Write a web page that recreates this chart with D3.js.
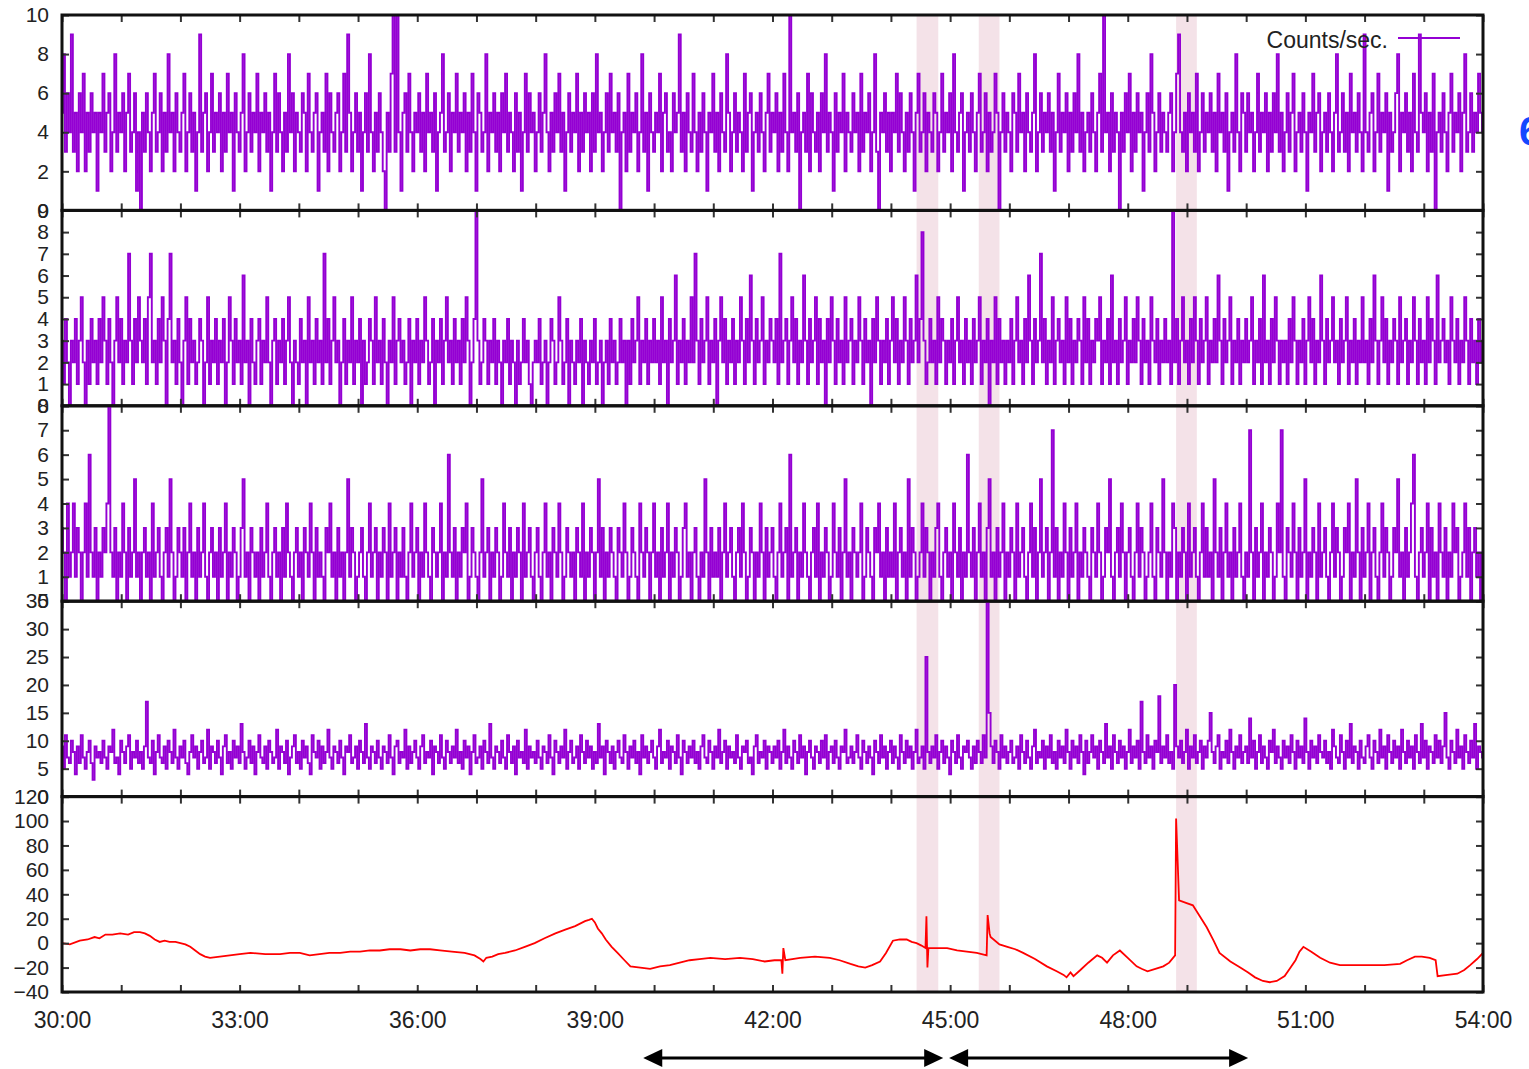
<!DOCTYPE html>
<html>
<head>
<meta charset="utf-8">
<script src="https://cdn.jsdelivr.net/npm/d3@7"></script>
<style>
    body { margin: 0; background: #fff; overflow: hidden; }
    svg text { font-family: "Liberation Sans", Arial, Helvetica, sans-serif; fill: #222; }
</style>
</head>
<body>
<div id="chart"></div>
<script>
const start_time = "30:00";
const end_time = "54:00";
const step_seconds = 2;

// counts per second, one value every 2 s
const counts_1 = [
    5,8,3,6,4,9,3,5,2,6,4,7,2,5,3,6,4,5,1,5,
    4,7,3,5,6,2,4,8,3,5,4,6,2,5,7,3,4,6,1,4,
    0,5,3,6,4,2,5,7,3,4,6,2,5,3,8,4,5,2,6,4,
    3,5,7,2,4,6,3,5,1,4,9,3,5,6,2,4,7,3,5,4,
    6,2,5,3,7,4,5,1,6,4,3,5,8,2,4,6,3,5,4,7,
    2,5,4,6,3,5,1,4,7,3,6,4,2,5,3,8,4,6,2,5,
    4,3,6,5,2,7,4,3,5,6,1,4,5,3,7,2,6,4,3,5,
    6,2,4,7,3,9,5,2,4,6,3,5,1,4,6,3,8,4,2,5,
    3,6,4,2,0,5,3,7,10,3,10,4,1,5,6,3,7,4,2,5,
    4,6,3,5,2,7,4,5,3,6,1,4,5,8,3,4,6,2,5,4,
    7,3,5,4,6,2,5,3,7,4,1,6,5,3,4,8,2,5,4,6,
    3,5,2,6,4,7,3,5,4,2,6,3,5,1,4,7,3,6,4,5,
    2,4,6,3,5,8,4,2,5,3,6,4,7,3,5,1,4,6,3,5,
    4,7,2,5,3,6,4,5,2,6,3,8,4,5,2,4,6,3,7,4,
    5,3,6,0,4,5,2,7,3,5,4,6,2,4,8,3,5,1,6,4,
    3,5,4,7,2,5,6,3,4,2,6,4,5,9,3,5,2,6,4,3,
    7,4,2,5,3,6,4,1,5,4,7,3,5,2,6,4,3,8,5,2,
    4,6,3,5,4,2,7,3,5,6,1,4,5,3,6,4,2,5,7,3,
    5,4,6,2,5,3,7,4,2,10,4,5,3,6,0,4,5,3,7,2,
    6,4,3,5,2,6,4,8,3,5,4,1,6,3,5,4,7,2,5,4,
    3,6,4,5,2,7,3,5,4,6,2,4,8,3,0,5,4,6,3,5,
    2,5,4,7,3,6,4,2,5,3,6,4,1,5,7,3,4,6,2,5,
    4,3,6,5,2,4,7,3,5,4,6,2,8,4,3,5,6,1,4,5,
    3,6,4,2,5,7,3,4,6,2,5,3,4,7,5,0,4,6,3,5,
    4,2,6,5,3,7,4,5,2,6,4,3,5,8,2,4,6,3,5,4,
    6,3,5,1,4,7,3,5,4,6,2,5,3,6,4,8,3,5,2,4,
    5,3,6,4,2,5,7,3,10,4,5,2,6,3,5,4,0,5,3,6,
    4,7,2,5,3,6,4,5,1,4,6,3,8,5,2,4,6,3,5,4,
    3,5,6,2,4,7,9,4,3,5,2,6,4,5,3,7,2,4,6,3,
    5,4,6,3,5,2,7,4,5,3,6,1,4,5,3,8,4,2,6,5,
    3,6,4,5,2,4,7,3,5,4,6,2,5,3,6,4,8,3,5,2,
    4,6,3,5,7,2,4,5,3,6,4,1,5,4,7,3,5,6,2,4,
    5,3,6,4,2,5,8,3,4,6,3,5,2,7,4,5,3,6,4,2,
    9,4,3,5,6,2,4,7,3,5,4,6,1,5,3,4,6,8,2,5,
    4,6,3,5,2,7,4,3,9,5,4,6,2,5,3,7,0,4,5,3,
    6,4,2,5,7,3,5,4,6,2,5,8,3,4,6,3,5,4,7,5,
    4
];
const counts_2 = [
    3,1,4,2,0,3,2,4,1,3,5,2,0,3,1,4,2,3,1,4,
    2,5,3,1,4,2,0,3,5,2,4,1,3,2,7,3,1,4,2,5,
    3,2,4,1,5,7,2,3,1,4,2,5,3,0,4,7,2,3,1,4,
    2,0,3,5,1,4,2,3,1,2,4,3,0,2,5,1,3,2,4,1,
    3,2,4,0,2,5,3,1,4,2,3,1,6,2,3,0,4,2,1,3,
    4,1,3,2,5,2,0,3,4,1,3,2,4,1,3,5,2,0,3,2,
    1,4,2,3,0,5,2,3,1,4,2,3,1,7,2,4,1,3,5,2,
    3,0,2,4,1,3,2,5,1,3,2,4,0,3,1,2,4,3,1,5,
    2,3,1,4,2,0,3,2,5,1,3,4,2,3,1,2,4,0,3,2,
    4,1,3,2,5,3,1,2,4,0,3,2,4,1,3,5,2,3,1,4,
    2,3,1,4,2,5,3,0,2,4,9,3,1,2,4,3,1,3,2,4,
    1,3,2,0,3,2,4,1,3,2,0,3,1,2,4,2,3,1,0,2,
    3,2,4,1,2,3,0,2,4,3,1,2,5,3,1,2,4,0,3,2,
    1,3,2,4,0,3,2,1,3,2,4,1,2,3,0,2,3,1,4,2,
    3,1,2,4,2,3,0,3,1,4,2,3,5,1,3,2,4,1,3,2,
    4,2,3,1,5,2,3,0,4,2,3,6,1,3,2,4,1,3,2,5,
    2,7,3,1,4,2,3,5,1,3,2,4,0,3,5,2,4,1,3,2,
    4,1,3,2,5,3,1,4,2,6,3,1,4,2,3,5,1,3,2,4,
    3,2,4,1,7,2,3,4,1,3,5,2,4,1,3,2,6,3,1,4,
    2,3,5,1,4,2,3,0,4,2,5,3,1,4,2,3,1,5,2,3,
    4,1,3,2,5,3,1,4,2,3,0,4,2,5,3,1,3,2,4,1,
    3,5,2,4,1,3,2,5,3,1,4,2,3,6,2,4,8,3,1,2,
    4,2,3,1,5,2,4,3,1,3,2,4,1,3,5,2,3,1,4,2,
    3,1,4,2,3,5,1,3,2,4,0,3,2,5,1,4,2,3,1,3,
    2,4,1,3,5,2,3,1,4,2,6,3,1,4,2,3,7,2,4,1,
    3,2,5,1,3,4,2,3,1,5,2,4,1,3,2,4,3,1,5,2,
    4,1,3,2,4,3,5,1,3,2,4,1,6,2,3,1,4,2,3,5,
    1,3,2,4,2,5,3,1,4,2,3,1,5,3,2,4,1,3,2,4,
    2,3,1,9,2,4,1,3,5,2,3,1,4,2,5,3,1,4,2,3,
    5,1,3,2,4,2,6,3,1,4,2,3,5,1,3,2,4,1,3,2,
    4,2,3,5,1,3,2,4,1,6,2,3,1,4,2,5,3,1,3,2,
    3,1,4,2,5,3,1,3,2,4,1,3,5,2,4,1,3,2,6,3,
    1,4,2,3,5,2,3,1,4,2,3,5,1,3,2,4,1,3,2,5,
    2,3,1,4,2,6,3,1,3,5,2,4,1,3,2,4,3,1,5,2,
    3,4,1,3,2,5,3,1,4,2,3,1,5,2,4,3,1,6,2,3,
    4,2,3,1,5,3,2,4,1,3,2,5,3,1,4,2,3,1,4,2,
    3
];
const counts_3 = [
    3,2,0,4,1,2,4,1,3,2,0,2,4,1,6,2,1,3,0,2,
    1,3,2,4,8,2,1,3,0,2,1,4,2,0,3,1,2,5,1,2,
    0,2,3,1,2,0,4,1,2,3,1,0,2,3,1,5,2,0,1,3,
    2,1,3,0,2,4,1,2,0,3,1,2,4,1,0,2,3,1,2,0,
    3,1,2,4,0,2,1,3,2,0,1,3,5,1,2,0,3,2,1,2,
    0,3,1,2,4,1,0,2,3,1,2,0,3,1,4,2,1,0,2,3,
    1,2,0,3,2,1,4,2,0,3,1,2,1,0,3,2,4,1,2,0,
    3,1,2,0,2,5,1,3,2,0,1,2,3,1,0,2,4,1,2,3,
    0,2,1,3,2,0,4,1,2,3,0,2,1,3,1,0,2,4,1,2,
    3,0,2,1,4,2,1,0,3,2,1,2,4,0,2,1,6,2,1,3,
    0,2,1,3,2,4,0,1,3,2,1,0,2,5,1,2,3,0,2,1,
    3,2,0,1,4,2,1,3,0,2,1,3,2,0,4,1,2,3,1,0,
    2,3,1,0,2,4,1,2,0,3,2,1,4,2,0,1,3,2,1,2,
    0,3,2,1,4,0,2,1,3,2,0,2,5,1,3,0,2,1,3,2,
    1,0,3,2,1,4,2,0,1,3,2,1,0,4,2,1,3,2,0,2,
    4,1,2,0,3,1,2,4,0,2,1,3,2,0,1,3,4,1,2,0,
    2,3,1,0,2,1,5,2,0,3,1,2,1,3,0,2,4,1,2,3,
    1,0,2,3,1,4,2,0,1,3,2,0,2,1,4,2,0,3,1,2,
    3,1,0,2,4,1,2,3,0,6,1,2,3,0,2,1,4,2,1,0,
    2,3,1,4,0,2,1,3,2,0,1,4,2,1,3,0,2,5,1,2,
    0,3,2,1,2,4,0,1,3,2,1,0,3,2,4,1,2,0,3,1,
    2,1,4,0,2,3,1,2,0,5,1,3,2,0,1,2,4,1,3,2,
    0,2,1,3,4,1,0,2,3,1,2,0,4,2,1,3,0,2,1,6,
    2,1,3,0,2,4,1,2,0,3,5,1,2,0,3,1,2,4,0,2,
    1,3,2,0,4,1,2,3,1,0,2,4,1,3,0,2,5,1,2,3,
    0,2,7,1,3,0,2,1,4,2,0,3,1,2,4,0,2,1,3,2,
    1,0,3,2,1,4,2,0,1,3,2,5,1,0,2,3,1,4,2,0,
    2,3,1,0,2,4,1,3,2,0,1,2,4,1,0,3,2,1,5,2,
    0,2,1,4,3,0,2,1,3,2,0,4,1,2,3,1,0,2,4,1,
    3,1,2,0,5,2,1,3,0,2,4,1,2,0,3,1,2,4,1,0,
    2,1,7,2,0,3,1,2,4,0,2,1,3,2,0,1,4,2,7,1,
    0,3,2,1,4,2,0,3,1,2,5,0,2,1,3,2,0,4,1,2,
    3,1,0,2,4,1,3,2,0,1,3,2,4,0,2,1,5,2,0,3,
    1,2,4,0,2,3,1,0,2,4,1,3,2,0,1,3,2,5,1,2,
    0,3,1,2,4,6,1,0,2,3,1,2,4,0,3,1,2,0,4,2,
    1,3,0,2,1,4,2,3,0,1,2,4,1,3,0,2,3,1,2,0,
    2
];
const counts_4 = [
    9,5,11,7,6,10,8,4,9,6,11,7,5,8,10,6,3,9,7,8,
    6,10,7,5,9,8,12,6,7,4,10,8,6,9,11,5,8,7,10,6,
    8,5,9,17,7,6,10,4,8,11,7,6,9,5,10,8,6,12,7,5,
    9,7,10,6,4,8,11,7,9,5,8,10,6,7,12,5,9,8,6,10,
    7,4,9,11,6,8,5,10,7,9,6,13,8,5,7,10,6,9,4,8,
    11,7,6,9,5,10,8,6,7,12,5,9,8,6,10,4,7,9,11,6,
    8,5,10,7,9,6,4,11,8,7,10,5,9,6,8,12,7,5,9,8,
    6,10,7,4,9,8,11,6,7,9,5,10,8,6,13,7,5,9,8,6,
    10,7,5,9,8,6,11,7,4,9,10,6,8,7,12,5,9,6,8,10,
    7,5,9,11,6,8,7,10,4,9,8,6,11,7,5,10,8,6,9,7,
    12,6,8,5,10,7,9,4,8,11,6,7,9,5,10,8,6,13,7,5,
    9,8,6,10,7,5,11,8,6,9,4,10,7,8,6,12,5,9,7,8,
    6,10,7,5,9,8,6,11,7,4,10,8,6,9,7,12,5,8,10,6,
    7,9,5,11,8,6,10,7,9,5,8,6,13,7,9,4,10,8,6,9,
    5,8,10,7,6,11,8,5,9,7,10,6,8,4,11,7,9,6,8,10,
    7,5,9,12,6,8,7,10,5,9,8,6,11,7,4,10,8,6,9,7,
    10,6,8,5,9,11,7,6,10,8,5,9,7,12,6,8,10,5,9,7,
    8,6,11,7,5,9,8,10,6,7,4,9,11,6,8,7,10,5,9,8,
    6,9,7,10,5,8,12,6,9,7,5,10,8,6,11,7,9,4,8,10,
    7,5,9,8,6,10,7,11,5,8,9,6,10,7,5,9,8,12,6,7,
    9,6,8,11,7,5,10,8,6,9,7,4,10,8,6,11,7,9,5,8,
    10,6,9,7,5,11,8,6,10,7,9,5,8,12,6,7,9,5,25,8,
    6,9,7,11,5,8,10,6,9,7,4,10,8,6,11,7,5,9,8,10,
    7,5,9,6,10,8,6,11,7,35,15,9,6,10,8,5,11,7,9,6,
    8,10,6,7,9,5,11,8,6,10,7,5,9,12,6,8,7,10,5,9,
    7,11,6,8,5,10,7,9,6,12,8,5,10,7,9,6,11,8,4,10,
    6,8,11,7,9,5,10,8,6,13,7,9,5,11,8,6,10,7,9,5,
    8,12,6,9,7,10,5,17,8,6,11,7,9,5,10,8,18,6,9,7,
    11,6,8,5,20,9,7,10,6,8,12,5,9,7,11,6,8,10,5,9,
    7,10,15,8,6,9,11,5,8,7,10,6,12,8,5,9,7,11,6,8,
    9,6,14,7,10,5,8,11,6,9,7,5,10,8,12,6,9,7,5,10,
    7,9,6,11,8,5,10,7,9,6,14,8,5,10,7,9,6,11,8,7,
    10,6,8,5,12,9,7,6,11,8,5,10,7,13,6,9,8,5,10,7,
    6,9,11,7,5,10,8,6,12,7,9,5,11,8,6,10,7,9,5,12,
    8,6,10,7,9,5,11,8,6,13,7,10,5,9,8,6,11,7,10,6,
    9,15,7,5,10,8,6,12,7,9,5,11,8,6,10,7,13,5,9,8,
    7
];

// bottom panel (red trace)
const trace_times = [
    "30:00","30:08","30:18","30:26","30:33","30:38","30:44","30:51","30:59","31:07",
    "31:13","31:19","31:24","31:29","31:34","31:39","31:44","31:49","31:55","32:00",
    "32:05","32:10","32:15","32:20","32:25","32:30","32:40","32:50","33:00","33:11",
    "33:26","33:41","33:51","34:01","34:11","34:21","34:31","34:42","34:52","35:02",
    "35:12","35:22","35:32","35:43","35:53","36:03","36:13","36:23","36:35","36:48",
    "36:58","37:04","37:07","37:10","37:16","37:22","37:29","37:39","37:49","37:59",
    "38:09","38:20","38:30","38:40","38:50","38:54","38:57","39:00","39:03","39:07",
    "39:11","39:17","39:23","39:30","39:36","39:46","39:56","40:06","40:16","40:26",
    "40:36","40:46","40:57","41:12","41:27","41:40","41:52","42:02","42:09","42:10",
    "42:11","42:13","42:20","42:28","42:43","42:58","43:08","43:19","43:27","43:34",
    "43:41","43:49","43:55","44:02","44:09","44:16","44:21","44:26","44:31","44:35",
    "44:36","44:37","44:38","44:47","44:57","45:07","45:17","45:27","45:37","45:38",
    "45:40","45:41","45:50","45:58","46:06","46:14","46:26","46:38","46:48","46:55",
    "46:58","47:02","47:05","47:12","47:20","47:29","47:34","47:39","47:45","47:52",
    "48:00","48:09","48:14","48:20","48:28","48:36","48:42","48:48","48:49","48:52",
    "48:59","49:06","49:13","49:20","49:27","49:33","49:44","49:54","50:02","50:09",
    "50:17","50:24","50:31","50:39","50:45","50:50","50:54","50:58","51:06","51:15",
    "51:25","51:35","51:50","52:05","52:20","52:36","52:43","52:51","52:58","53:06",
    "53:12","53:14","53:24","53:34","53:41","53:47","53:54","54:00"
];
const trace_values = [
    0,-1,2,3,5,4,7,7,8,7,
    9,9,8,6,3,1,2,1,1,0,
    -1,-3,-6,-9,-11,-12,-11,-10,-9,-8,
    -9,-9,-8,-8,-10,-9,-8,-8,-7,-7,
    -6,-6,-5,-5,-6,-5,-5,-6,-7,-8,
    -10,-13,-15,-12,-11,-9,-8,-6,-3,0,
    4,8,11,14,18,19,20,17,12,8,
    3,-3,-8,-14,-19,-20,-21,-19,-18,-16,
    -14,-13,-12,-13,-12,-13,-15,-14,-14,-25,
    -4,-14,-13,-12,-11,-12,-14,-17,-19,-20,
    -18,-15,-8,2,3,3,1,0,-2,-4,
    22,-20,-4,-4,-4,-6,-7,-8,-10,23,
    8,5,-1,-3,-5,-8,-13,-19,-23,-26,
    -28,-24,-27,-22,-16,-10,-12,-16,-10,-6,
    -12,-19,-21,-23,-21,-19,-16,-10,102,35,
    33,31,22,13,2,-8,-15,-20,-24,-28,
    -31,-32,-31,-27,-20,-14,-7,-3,-7,-12,
    -16,-18,-18,-18,-18,-17,-14,-11,-11,-12,
    -14,-27,-26,-25,-22,-18,-13,-8
];

const band_starts = ["44:26", "45:29", "48:49"];
const band_ends = ["44:48", "45:50", "49:10"];
const arrow_starts = ["39:49", "44:59"];
const arrow_ends = ["44:53", "50:02"];

const panel_domains = [[0, 10], [0, 9], [0, 8], [0, 35], [-40, 120]];
const panel_ticks = [
    [0, 2, 4, 6, 8, 10],
    [0, 1, 2, 3, 4, 5, 6, 7, 8, 9],
    [0, 1, 2, 3, 4, 5, 6, 7, 8],
    [0, 5, 10, 15, 20, 25, 30, 35],
    [-40, -20, 0, 20, 40, 60, 80, 100, 120]
];
const legend_label = "Counts/sec.";

const parse = d3.timeParse("%M:%S");
const t0 = parse(start_time);

const width = 1529, height = 1069;
const plot_left = 62, plot_right = 1483, plot_top = 15, plot_bottom = 992;
const panel_h = (plot_bottom - plot_top) / 5;

const svg = d3.select("#chart").append("svg")
    .attr("width", width)
    .attr("height", height);

svg.append("rect").attr("width", width).attr("height", height).attr("fill", "#fff");

const x = d3.scaleTime()
    .domain([t0, parse(end_time)])
    .range([plot_left, plot_right]);

// shaded intervals across all panels
svg.selectAll(".band")
    .data(band_starts.map((s, i) => [parse(s), parse(band_ends[i])]))
    .enter().append("rect")
    .attr("class", "band")
    .attr("x", d => x(d[0]))
    .attr("width", d => x(d[1]) - x(d[0]))
    .attr("y", plot_top)
    .attr("height", plot_bottom - plot_top)
    .attr("fill", "#f4e2e8");

const series = [counts_1, counts_2, counts_3, counts_4].map(arr =>
    arr.map((v, i) => ({ t: d3.timeSecond.offset(t0, i * step_seconds), v: v })));
series.push(trace_times.map((s, i) => ({ t: parse(s), v: trace_values[i] })));

const minute_ticks = d3.timeMinute.every(1).range(t0, d3.timeSecond.offset(parse(end_time), 1));

series.forEach((data, p) => {
    const y0 = plot_top + p * panel_h, y1 = y0 + panel_h;
    const y = d3.scaleLinear().domain(panel_domains[p]).range([y1, y0]);

    svg.append("clipPath").attr("id", "clip" + p)
        .append("rect")
        .attr("x", plot_left).attr("y", y0)
        .attr("width", plot_right - plot_left).attr("height", panel_h);

    const line = d3.line()
        .x(d => x(d.t))
        .y(d => y(d.v))
        .curve(p < 4 ? d3.curveStep : d3.curveLinear);

    svg.append("path")
        .datum(data)
        .attr("clip-path", `url(#clip${p})`)
        .attr("fill", "none")
        .attr("stroke", p < 4 ? "#9400d3" : "#ff0000")
        .attr("stroke-width", p < 4 ? 1.9 : 1.8)
        .attr("stroke-linejoin", "miter")
        .attr("d", line);

    // inward ticks on all four sides
    svg.append("g")
        .attr("transform", `translate(${plot_left},0)`)
        .call(d3.axisLeft(y).tickValues(panel_ticks[p]).tickSize(-7).tickPadding(13))
        .call(g => g.select(".domain").remove())
        .call(g => g.selectAll("line").attr("stroke", "#333").attr("stroke-width", 2))
        .call(g => g.selectAll("text").style("font-size", "21px").attr("fill", "#222"));

    svg.append("g")
        .attr("transform", `translate(${plot_right},0)`)
        .call(d3.axisRight(y).tickValues(panel_ticks[p]).tickSize(-7).tickFormat(""))
        .call(g => g.select(".domain").remove())
        .call(g => g.selectAll("line").attr("stroke", "#333").attr("stroke-width", 2));

    svg.append("g")
        .attr("transform", `translate(0,${y0})`)
        .call(d3.axisTop(x).tickValues(minute_ticks).tickSize(-7).tickFormat(""))
        .call(g => g.select(".domain").remove())
        .call(g => g.selectAll("line").attr("stroke", "#333").attr("stroke-width", 2));

    svg.append("g")
        .attr("transform", `translate(0,${y1})`)
        .call(d3.axisBottom(x).tickValues(minute_ticks).tickSize(-7).tickFormat(""))
        .call(g => g.select(".domain").remove())
        .call(g => g.selectAll("line").attr("stroke", "#333").attr("stroke-width", 2));

    svg.append("rect")
        .attr("x", plot_left).attr("y", y0)
        .attr("width", plot_right - plot_left).attr("height", panel_h)
        .attr("fill", "none")
        .attr("stroke", "#111")
        .attr("stroke-width", 3);
});

// time labels under the last panel
svg.append("g")
    .attr("transform", `translate(0,${plot_bottom})`)
    .call(d3.axisBottom(x)
        .ticks(d3.timeMinute.every(3))
        .tickSize(0)
        .tickPadding(20)
        .tickFormat(d3.timeFormat("%M:%S")))
    .call(g => g.select(".domain").remove())
    .call(g => g.selectAll("text").style("font-size", "23px").attr("fill", "#222"));

// legend
svg.append("text")
    .attr("x", 1388)
    .attr("y", 48)
    .attr("text-anchor", "end")
    .style("font-size", "23px")
    .text(legend_label);
svg.append("line")
    .attr("x1", 1398).attr("x2", 1460)
    .attr("y1", 38).attr("y2", 38)
    .attr("stroke", "#9400d3")
    .attr("stroke-width", 2);

// arrows under the axis
const arrow_y = 1058;
arrow_starts.forEach((s, i) => {
    const xa = x(parse(s)), xb = x(parse(arrow_ends[i]));
    svg.append("line")
        .attr("x1", xa + 15).attr("x2", xb - 15)
        .attr("y1", arrow_y).attr("y2", arrow_y)
        .attr("stroke", "#000")
        .attr("stroke-width", 3);
    svg.append("path")
        .attr("d", `M${xa},${arrow_y}L${xa + 19},${arrow_y - 9}L${xa + 19},${arrow_y + 9}Z`)
        .attr("fill", "#000");
    svg.append("path")
        .attr("d", `M${xb},${arrow_y}L${xb - 19},${arrow_y - 9}L${xb - 19},${arrow_y + 9}Z`)
        .attr("fill", "#000");
});

// cut-off label at the right edge
svg.append("text")
    .attr("x", 1519)
    .attr("y", 145)
    .style("font-size", "40px")
    .style("font-weight", "bold")
    .style("fill", "#1448ff")
    .text("6");
</script>
</body>
</html>
